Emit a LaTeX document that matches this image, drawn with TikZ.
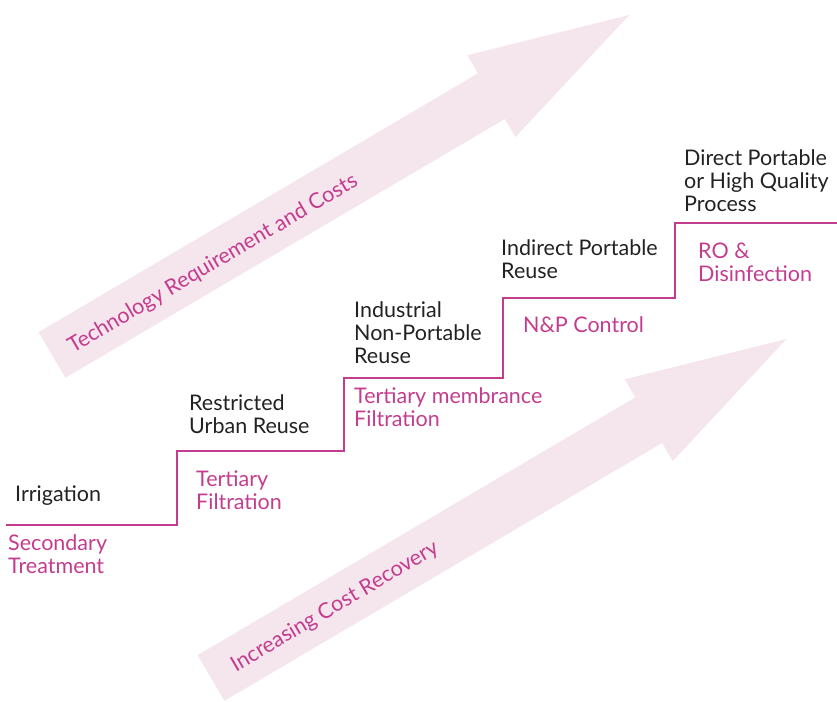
\documentclass[tikz,border=0pt]{standalone}
\usepackage{fontspec}
\setmainfont{Lato}
\definecolor{stairpink}{HTML}{C43C8E}
\definecolor{arrowpink}{HTML}{F5E6EE}
\definecolor{labelgrey}{HTML}{222222}
\tikzset{
  reuse/.style={font=\fontsize{21.5}{22.8}\selectfont, text=labelgrey, anchor=base west, align=left, inner sep=0pt},
  treat/.style={reuse, text=stairpink},
  trend/.style={font=\fontsize{21.5}{22.8}\selectfont, text=stairpink, inner sep=0pt, rotate=30.5},
}
\begin{document}
\begin{tikzpicture}[x=1pt,y=-1pt]
  \useasboundingbox (0,0) rectangle (837,701);
  % the two trend arrows
  \fill[arrowpink, shift={(52,355)}, rotate=30.5] (0,-26.5) -- (510,-26.5) -- (510,-47.5) -- (670,0) -- (510,47.5) -- (510,26.5) -- (0,26.5) -- cycle;
  \fill[arrowpink, shift={(211,678)}, rotate=30.5] (0,-26.5) -- (508,-26.5) -- (508,-47.5) -- (668,0) -- (508,47.5) -- (508,26.5) -- (0,26.5) -- cycle;
  \node[trend] (techcost) at (213,264) {Technology Requirement and Costs};
  \node[trend] (costrec) at (335,607) {Increasing Cost Recovery};
  % staircase
  \draw[stairpink, line width=1.7pt] (6,525) -- (177,525) -- (177,451) -- (344,451) -- (344,378)
    -- (503,378) -- (503,298) -- (675,298) -- (675,223) -- (837,223);
  % reuse levels (anchored on the last line)
  \node[reuse] (irrig) at (15,501) {Irrigation};
  \node[reuse] (urban) at (189,433) {Restricted\\Urban Reuse};
  \node[reuse] (indus) at (354,363) {Industrial\\Non-Portable\\Reuse};
  \node[reuse] (indir) at (501,278) {Indirect Portable\\Reuse};
  \node[reuse] (direct) at (684,211) {Direct Portable\\or High Quality\\Process};
  % treatment steps
  \node[treat] (second) at (8,573) {Secondary\\Treatment};
  \node[treat] (tertf) at (196,509) {Tertiary\\Filtration};
  \node[treat] (tertm) at (354,426) {Tertiary membrance\\Filtration};
  \node[treat] (npctl) at (523,332) {N\&P Control};
  \node[treat] (rodis) at (698,281) {RO \&\\Disinfection};
\end{tikzpicture}
\end{document}
